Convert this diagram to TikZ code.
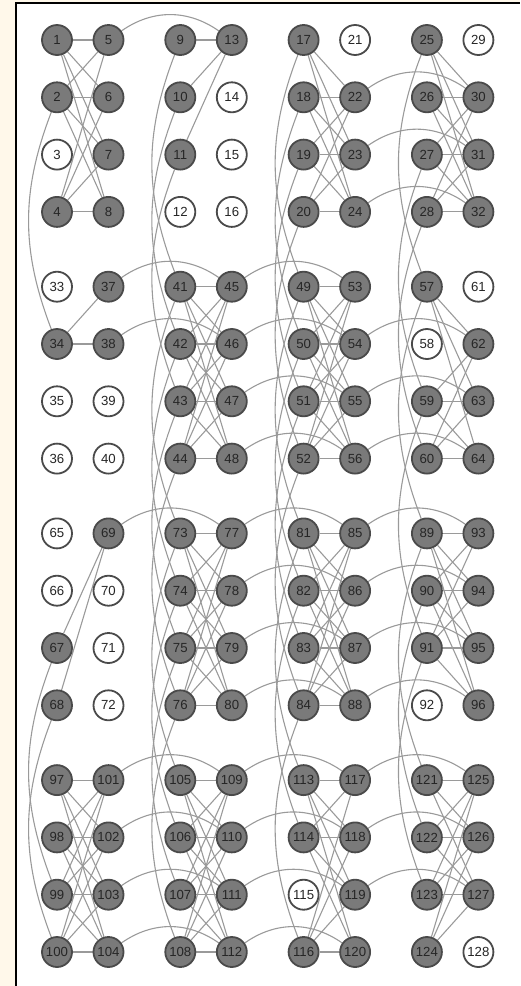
\documentclass[tikz,border=0pt]{standalone}
\usepackage{fontspec}
\setmainfont{Liberation Sans}
\usepackage{tikz}
\usetikzlibrary{backgrounds}
\definecolor{cream}{HTML}{FFF8EA}
\definecolor{wire}{HTML}{9A9A9A}
\definecolor{qfill}{HTML}{7A7A7A}
\definecolor{qedge}{HTML}{4A4A4A}
\definecolor{qtext}{HTML}{262626}
\tikzset{
  livebit/.style={circle,draw=qedge,fill=qfill,line width=0.9pt,minimum size=15pt,inner sep=0pt,font=\fontsize{6.6}{8}\selectfont,text=qtext},
  deadbit/.style={circle,draw=qedge,fill=white,line width=0.9pt,minimum size=15pt,inner sep=0pt,font=\fontsize{6.6}{8}\selectfont,text=qtext},
  link/.style={draw=wire,line width=0.55pt},
  hop/.style={link,bend left=35},
  drop/.style={link,bend right=21}}

\begin{document}
\begin{tikzpicture}[x=0.5pt,y=-0.5pt]
\useasboundingbox (0,0) rectangle (520,986);
\fill[cream] (0,0) rectangle (16,986);
\fill[cream] (0,0) rectangle (520,3);
\draw[black,line width=0.8pt] (16,986) -- (16,3) -- (520,3);

\foreach \n in {3,12,14,15,16,21,29,33,35,36,39,40,58,61,65,66,70,71,72,92,115,128}
  {\expandafter\xdef\csname dead\n\endcsname{1}}

\foreach \r in {0,...,3}
  \foreach \c in {0,...,3}
    \foreach \j in {0,1}
      \foreach \k in {0,...,3}{
        \pgfmathtruncatemacro\n{32*\r+8*\c+4*\j+\k+1}
        \ifcsname dead\n\endcsname
          \node[deadbit] (n\n) at ({57+123.3*\c+51.5*\j},{40+246.7*\r+57.3*\k}) {\n};
        \else
          \node[livebit] (n\n) at ({57+123.3*\c+51.5*\j},{40+246.7*\r+57.3*\k}) {\n};
        \fi
      }

\begin{scope}[on background layer]
\foreach \a in {1,2,4} \foreach \b in {5,6,7,8} \draw[link] (n\a) -- (n\b);
\foreach \a in {9,10,11} \foreach \b in {13} \draw[link] (n\a) -- (n\b);
\foreach \a in {17,18,19,20} \foreach \b in {22,23,24} \draw[link] (n\a) -- (n\b);
\foreach \a in {25,26,27,28} \foreach \b in {30,31,32} \draw[link] (n\a) -- (n\b);
\foreach \a in {34} \foreach \b in {37,38} \draw[link] (n\a) -- (n\b);
\foreach \a in {41,42,43,44} \foreach \b in {45,46,47,48} \draw[link] (n\a) -- (n\b);
\foreach \a in {49,50,51,52} \foreach \b in {53,54,55,56} \draw[link] (n\a) -- (n\b);
\foreach \a in {57,59,60} \foreach \b in {62,63,64} \draw[link] (n\a) -- (n\b);
\foreach \a in {67,68} \foreach \b in {69} \draw[link] (n\a) -- (n\b);
\foreach \a in {73,74,75,76} \foreach \b in {77,78,79,80} \draw[link] (n\a) -- (n\b);
\foreach \a in {81,82,83,84} \foreach \b in {85,86,87,88} \draw[link] (n\a) -- (n\b);
\foreach \a in {89,90,91} \foreach \b in {93,94,95,96} \draw[link] (n\a) -- (n\b);
\foreach \a in {97,98,99,100} \foreach \b in {101,102,103,104} \draw[link] (n\a) -- (n\b);
\foreach \a in {105,106,107,108} \foreach \b in {109,110,111,112} \draw[link] (n\a) -- (n\b);
\foreach \a in {113,114,116} \foreach \b in {117,118,119,120} \draw[link] (n\a) -- (n\b);
\foreach \a in {121,122,123,124} \foreach \b in {125,126,127} \draw[link] (n\a) -- (n\b);

\foreach \a/\b in {5/13,22/30,23/31,24/32,37/45,38/46,45/53,46/54,47/55,48/56,54/62,55/63,56/64,
  69/77,77/85,78/86,79/87,80/88,85/93,86/94,87/95,88/96,101/109,102/110,103/111,104/112,
  109/117,110/118,111/119,112/120,117/125,118/126,119/127}
  \draw[hop] (n\a) to (n\b);

\foreach \a/\b in {2/34,67/99,68/100,9/41,10/42,11/43,41/73,42/74,43/75,44/76,73/105,74/106,75/107,76/108,
  17/49,18/50,19/51,20/52,49/81,50/82,51/83,52/84,81/113,82/114,84/116,
  25/57,27/59,28/60,57/89,59/91,89/121,90/122,91/123}
  \draw[drop] (n\a) to (n\b);
\end{scope}
\end{tikzpicture}
\end{document}
